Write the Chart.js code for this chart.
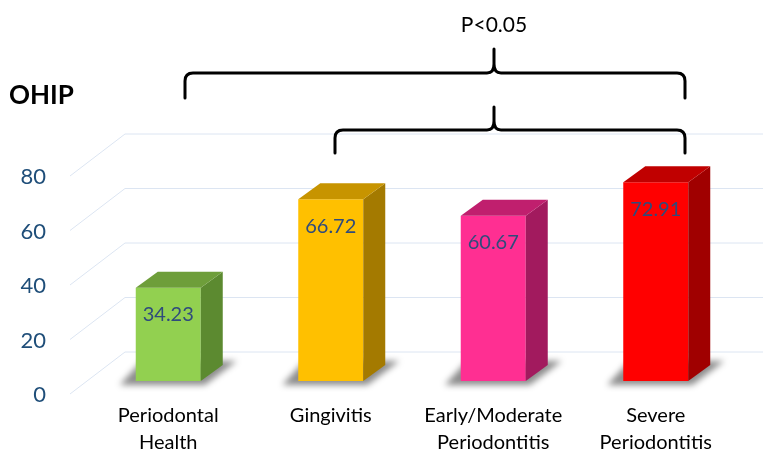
<!DOCTYPE html>
<html>
<head>
<meta charset="utf-8">
<script src="https://cdn.jsdelivr.net/npm/chart.js@4.4.0/dist/chart.umd.min.js"></script>
<style>
  html, body { margin: 0; padding: 0; background: #fff; }
  #wrap { width: 763px; height: 451px; position: relative; }
</style>
</head>
<body>
<div id="wrap"><canvas id="chart"></canvas></div>
<script>
// data
const categories = [["Periodontal", "Health"], "Gingivitis", ["Early/Moderate", "Periodontitis"], ["Severe", "Periodontitis"]];
const ohipValues = [34.23, 66.72, 60.67, 72.91];
const yTicks = [0, 20, 40, 60, 80];

// colours: front, top, side
const frontColors = ["#92D050", "#FFC000", "#FF2F92", "#FF0000"];
const topColors = ["#6E9E3A", "#C79400", "#C01F6E", "#C00000"];
const sideColors = ["#5C8A30", "#A47A00", "#A21A5E", "#A00000"];

const DX = 22, DY = -16; // depth of the bars

// 3D Effekt, Gitter und Klammern
const depthPlugin = {
  id: "depth",
  beforeDatasetsDraw(chart) {
    const ctx = chart.ctx;
    const y = chart.scales.y;
    // perspective grid
    ctx.save();
    ctx.strokeStyle = "#DCE5F2";
    ctx.lineWidth = 1;
    yTicks.forEach(v => {
      const p = y.getPixelForValue(v);
      ctx.beginPath();
      ctx.moveTo(70, p + 13);
      ctx.lineTo(125, p - 29);
      ctx.lineTo(763, p - 29);
      ctx.stroke();
    });
    ctx.restore();

    // shadows under bars
    const meta = chart.getDatasetMeta(0);
    meta.data.forEach(bar => {
      const x0 = bar.x - bar.width / 2, x1 = bar.x + bar.width / 2, b = bar.base;
      ctx.save();
      ctx.filter = "blur(3px)";
      ctx.fillStyle = "rgba(0,0,0,0.45)";
      ctx.beginPath();
      ctx.moveTo(x0 - 16, b + 4);
      ctx.lineTo(x1 + 4, b + 4);
      ctx.lineTo(x1 + 36, b - 20);
      ctx.lineTo(x0 + 6, b - 20);
      ctx.closePath();
      ctx.fill();
      ctx.restore();
    });
  },
  afterDatasetsDraw(chart) {
    const ctx = chart.ctx;
    const meta = chart.getDatasetMeta(0);
    meta.data.forEach((bar, i) => {
      const x0 = bar.x - bar.width / 2, x1 = bar.x + bar.width / 2;
      const top = bar.y, b = bar.base;
      ctx.save();
      // side
      ctx.fillStyle = sideColors[i];
      ctx.beginPath();
      ctx.moveTo(x1, top);
      ctx.lineTo(x1 + DX, top + DY);
      ctx.lineTo(x1 + DX, b + DY);
      ctx.lineTo(x1, b);
      ctx.closePath();
      ctx.fill();
      // top
      ctx.fillStyle = topColors[i];
      ctx.beginPath();
      ctx.moveTo(x0, top);
      ctx.lineTo(x0 + DX, top + DY);
      ctx.lineTo(x1 + DX, top + DY);
      ctx.lineTo(x1, top);
      ctx.closePath();
      ctx.fill();
      // value label
      ctx.fillStyle = "#2F4B7C";
      ctx.font = "20px Lato";
      ctx.textAlign = "center";
      ctx.textBaseline = "middle";
      ctx.fillText(ohipValues[i].toFixed(2), bar.x, top + 27);
      ctx.restore();
    });
  },
  afterDraw(chart) {
    const ctx = chart.ctx;
    ctx.save();
    ctx.fillStyle = "#000";
    ctx.font = "bold 26px Lato";
    ctx.textAlign = "left";
    ctx.textBaseline = "middle";
    ctx.fillText("OHIP", 9, 96);

    ctx.font = "21px Lato";
    ctx.textAlign = "center";
    ctx.fillText("P<0.05", 494, 25);

    ctx.strokeStyle = "#000";
    ctx.lineWidth = 3;
    ctx.lineCap = "round";
    ctx.lineJoin = "round";
    drawBrace(ctx, 185, 685, 494, 73, 49, 98);
    drawBrace(ctx, 335, 685, 494, 130, 107, 153);
    ctx.restore();
  }
};

function drawBrace(ctx, xl, xr, xm, yh, ytip, yend) {
  const r = 8;
  ctx.beginPath();
  ctx.moveTo(xl, yend);
  ctx.lineTo(xl, yh + r);
  ctx.quadraticCurveTo(xl, yh, xl + r, yh);
  ctx.lineTo(xm - 7, yh);
  ctx.quadraticCurveTo(xm, yh, xm, yh - 9);
  ctx.lineTo(xm, ytip);
  ctx.moveTo(xm, yh - 9);
  ctx.quadraticCurveTo(xm, yh, xm + 7, yh);
  ctx.lineTo(xr - r, yh);
  ctx.quadraticCurveTo(xr, yh, xr, yh + r);
  ctx.lineTo(xr, yend);
  ctx.stroke();
}

new Chart(document.getElementById("chart"), {
  type: "bar",
  data: {
    labels: categories,
    datasets: [{
      label: "OHIP",
      data: ohipValues,
      backgroundColor: frontColors,
      borderWidth: 0,
      barPercentage: 0.4,
      categoryPercentage: 1
    }]
  },
  options: {
    responsive: true,
    maintainAspectRatio: false,
    animation: false,
    layout: { padding: { top: 163, left: 0, right: 26, bottom: 0 } },
    plugins: {
      legend: { display: false },
      tooltip: { enabled: false }
    },
    scales: {
      x: {
        grid: { display: false, drawTicks: false },
        border: { display: false },
        ticks: {
          color: "#000",
          font: { family: "Lato", size: 20, lineHeight: 1.35 },
          padding: 21,
          maxRotation: 0,
          autoSkip: false
        },
        afterFit(scale) { scale.height = 70; }
      },
      y: {
        min: 0,
        max: 80,
        grid: { display: false, drawTicks: false },
        border: { display: false },
        ticks: {
          stepSize: 20,
          color: "#1F4E79",
          font: { family: "Lato", size: 22 },
          padding: 41,
          labelOffset: 14
        },
        afterFit(scale) { scale.width = 87; }
      }
    }
  },
  plugins: [depthPlugin]
});
</script>
</body>
</html>
